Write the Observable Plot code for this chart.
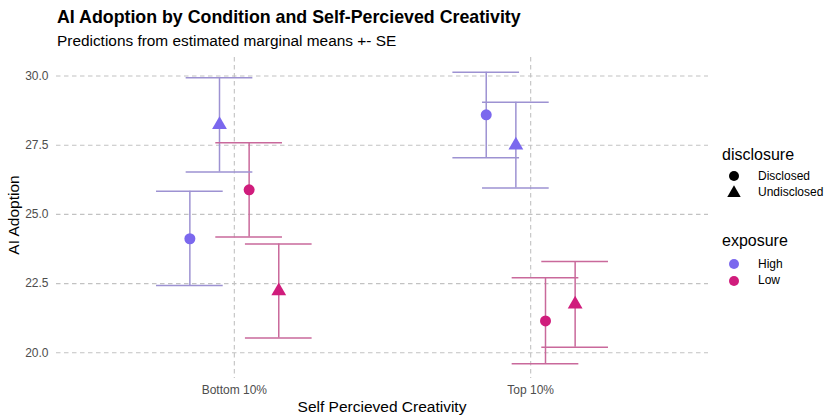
<!DOCTYPE html>
<html>
<head>
<meta charset="utf-8">
<script src="https://cdn.jsdelivr.net/npm/d3@7"></script>
<script src="https://cdn.jsdelivr.net/npm/@observablehq/plot@0.6"></script>
<style>
  html, body { margin: 0; padding: 0; background: #fff; }
  #wrap { position: relative; width: 826px; height: 418px; font-family: "Liberation Sans", Arial, sans-serif; }
  #wrap svg.plot { position: absolute; left: 0; top: 0; }
  .lbl { position: absolute; white-space: nowrap; line-height: 1; }
</style>
</head>
<body>
<div id="wrap"></div>
<script>
// ---- data ----
const categories = ["Bottom 10%", "Top 10%"];
const creativity = ["Bottom 10%", "Bottom 10%", "Bottom 10%", "Bottom 10%", "Top 10%", "Top 10%", "Top 10%", "Top 10%"];
const exposure   = ["High", "High", "Low", "Low", "High", "High", "Low", "Low"];
const disclosure = ["Disclosed", "Undisclosed", "Disclosed", "Undisclosed", "Disclosed", "Undisclosed", "Disclosed", "Undisclosed"];
const emmean     = [24.12, 28.24, 25.89, 22.23, 28.60, 27.50, 21.15, 21.75];
const lowerSE    = [22.43, 26.53, 24.18, 20.53, 27.05, 25.95, 19.60, 20.20];
const upperSE    = [25.84, 29.94, 27.59, 23.93, 30.14, 29.05, 22.71, 23.30];
const yTicks     = [20, 22.5, 25, 27.5, 30];
const exposureLevels = ["High", "Low"];
const disclosureLevels = ["Disclosed", "Undisclosed"];
const pointColors = ["#7b68ee", "#d01c7c"];
const barColors = ["#9d92d2", "#c9699b"];

// dodge: 4 groups within width 0.4
const groupOrder = ["High|Disclosed", "High|Undisclosed", "Low|Disclosed", "Low|Undisclosed"];
const dodgeWidth = 0.4;
const capHalf = 0.1125;

const rows = creativity.map((c, i) => {
  const g = groupOrder.indexOf(exposure[i] + "|" + disclosure[i]);
  const xpos = categories.indexOf(c) + 1 + (g - 1.5) * (dodgeWidth / 4);
  return { creativity: c, exposure: exposure[i], disclosure: disclosure[i],
           emmean: emmean[i], lower: lowerSE[i], upper: upperSE[i], xpos,
           x1: xpos - capHalf, x2: xpos + capHalf };
});

const barColor = d => barColors[exposureLevels.indexOf(d.exposure)];
const grid = { stroke: "#c2c2c2", strokeDasharray: "4.5,3.5", strokeWidth: 1.1 };

const chart = Plot.plot({
  width: 826,
  height: 418,
  marginLeft: 56,
  marginRight: 118,
  marginTop: 57,
  marginBottom: 40,
  style: { fontFamily: "Liberation Sans, Arial, sans-serif", fontSize: "12px", color: "#4d4d4d", background: "#fff" },
  x: { type: "linear", domain: [0.4, 2.6] },
  y: { domain: [19.07, 30.67] },
  symbol: { domain: disclosureLevels, range: ["circle", "triangle"] },
  color: { domain: exposureLevels, range: pointColors },
  marks: [
    Plot.ruleY(yTicks, grid),
    Plot.ruleX([1, 2], grid),
    Plot.axisY({ ticks: yTicks, tickSize: 0, tickPadding: 8, tickFormat: d3.format(".1f"), label: null, fontSize: 12 }),
    Plot.axisX({ ticks: [1, 2], tickSize: 0, tickPadding: 7, tickFormat: v => categories[v - 1], label: null, fontSize: 12 }),
    Plot.ruleX(rows, { x: "xpos", y1: "lower", y2: "upper", stroke: barColor, strokeWidth: 1.5 }),
    Plot.ruleY(rows, { y: "upper", x1: "x1", x2: "x2", stroke: barColor, strokeWidth: 1.5 }),
    Plot.ruleY(rows, { y: "lower", x1: "x1", x2: "x2", stroke: barColor, strokeWidth: 1.5 }),
    Plot.dot(rows, { x: "xpos", y: "emmean", symbol: "disclosure", fill: "exposure", r: 5.5, stroke: "none" })
  ]
});
chart.classList.add("plot");
const wrap = document.getElementById("wrap");
wrap.appendChild(chart);

// ---- text overlays ----
function label(text, left, top, css) {
  const d = document.createElement("div");
  d.className = "lbl";
  d.textContent = text;
  d.style.left = left + "px";
  d.style.top = top + "px";
  Object.assign(d.style, css || {});
  wrap.appendChild(d);
  return d;
}
label("AI Adoption by Condition and Self-Percieved Creativity", 57, 9, { fontSize: "17.8px", fontWeight: "bold", color: "#000" });
label("Predictions from estimated marginal means +- SE", 57, 33, { fontSize: "15.4px", color: "#000" });
label("Self Percieved Creativity", 382, 399, { fontSize: "15.5px", color: "#000", transform: "translateX(-50%)" });
label("AI Adoption", 14, 215, { fontSize: "15.5px", color: "#000", transform: "translate(-50%,-50%) rotate(-90deg)" });

// legend
const ns = "http://www.w3.org/2000/svg";
function legendSymbol(kind, color, cx, cy) {
  const s = document.createElementNS(ns, "svg");
  s.setAttribute("width", 20); s.setAttribute("height", 20);
  s.style.position = "absolute";
  s.style.left = (cx - 10) + "px"; s.style.top = (cy - 10) + "px";
  const p = document.createElementNS(ns, "path");
  const sym = kind === "circle" ? d3.symbolCircle : d3.symbolTriangle;
  p.setAttribute("d", d3.symbol(sym, Math.PI * 5 * 5)());
  p.setAttribute("transform", "translate(10,10)");
  p.setAttribute("fill", color);
  s.appendChild(p);
  wrap.appendChild(s);
}
label("disclosure", 722, 147, { fontSize: "16px", color: "#000" });
disclosureLevels.forEach((lv, i) => {
  const cy = 176 + i * 16.5;
  legendSymbol(i === 0 ? "circle" : "triangle", "#000", 734, cy);
  label(lv, 758, cy - 6.5, { fontSize: "12px", color: "#000" });
});
label("exposure", 722, 233, { fontSize: "16px", color: "#000" });
exposureLevels.forEach((lv, i) => {
  const cy = 264 + i * 16.5;
  legendSymbol("circle", pointColors[i], 734, cy);
  label(lv, 758, cy - 6.5, { fontSize: "12px", color: "#000" });
});
</script>
</body>
</html>
